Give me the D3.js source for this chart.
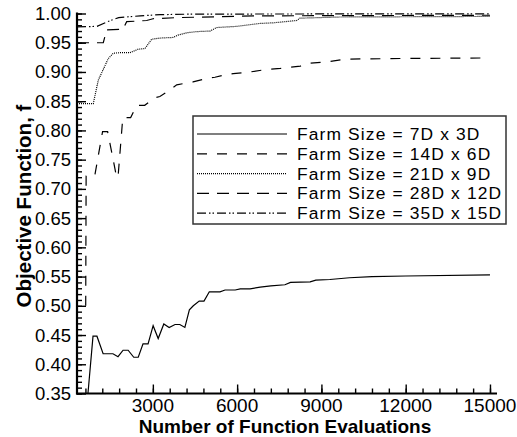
<!DOCTYPE html>
<html>
<head>
<meta charset="utf-8">
<script src="https://cdn.jsdelivr.net/npm/d3@7"></script>
<style>
  html, body { margin: 0; padding: 0; background: #fff; }
  svg { display: block; }
  text { font-family: "Liberation Sans", Arial, Helvetica, sans-serif; fill: #000; }
</style>
</head>
<body>
<svg id="chart" width="517" height="437"></svg>
<script>
// Optimisation history: objective function vs. number of function evaluations
const seriesNames = [
  "Farm Size = 7D x 3D",
  "Farm Size = 14D x 6D",
  "Farm Size = 21D x 9D",
  "Farm Size = 28D x 12D",
  "Farm Size = 35D x 15D"
];

const evals7x3 = [690, 870, 1010, 1230, 1580, 1760, 1940, 2120, 2320, 2480, 2650, 2830, 3010, 3190, 3390, 3580, 3790, 3960, 4140, 4300, 4440, 4650, 4820, 5010, 5390, 5570, 5930, 6110, 6460, 6820, 7200, 7700, 7900, 8600, 8800, 9300, 10000, 10800, 12000, 15000];
const obj7x3   = [0.350, 0.448, 0.448, 0.418, 0.418, 0.413, 0.424, 0.424, 0.412, 0.412, 0.435, 0.435, 0.466, 0.444, 0.469, 0.463, 0.468, 0.468, 0.463, 0.493, 0.500, 0.508, 0.508, 0.524, 0.524, 0.527, 0.527, 0.529, 0.529, 0.532, 0.534, 0.536, 0.540, 0.541, 0.544, 0.545, 0.548, 0.550, 0.551, 0.553];

const evals14x6 = [610, 625, 930, 1210, 1390, 1710, 1760, 1930, 2210, 2430, 2710, 3070, 3250, 3600, 3850, 4180, 4430, 4930, 5210, 5570, 5860, 6460, 7000, 7540, 8250, 8600, 9320, 9860, 11800, 15000];
const obj14x6   = [0.500, 0.722, 0.722, 0.798, 0.798, 0.720, 0.720, 0.822, 0.822, 0.843, 0.843, 0.856, 0.858, 0.869, 0.878, 0.881, 0.883, 0.889, 0.891, 0.895, 0.897, 0.900, 0.904, 0.906, 0.910, 0.915, 0.918, 0.922, 0.923, 0.924];

const evals21x9 = [300, 880, 1058, 1414, 1592, 1830, 2186, 2482, 2720, 2959, 3254, 3717, 3895, 4205, 4561, 5034, 5273, 5985, 6814, 7277, 8120, 8238, 9662, 15000];
const obj21x9   = [0.846, 0.846, 0.886, 0.923, 0.932, 0.933, 0.933, 0.939, 0.940, 0.956, 0.958, 0.959, 0.963, 0.967, 0.969, 0.970, 0.976, 0.978, 0.983, 0.984, 0.988, 0.992, 0.994, 0.995];

const evals28x12 = [300, 1236, 1357, 1937, 2069, 2780, 3005, 3859, 6814, 15000];
const obj28x12   = [0.950, 0.950, 0.972, 0.973, 0.986, 0.988, 0.991, 0.993, 0.996, 0.997];

const evals35x15 = [300, 1012, 1487, 1783, 2552, 3264, 4439, 15000];
const obj35x15   = [0.977, 0.978, 0.988, 0.993, 0.996, 0.998, 0.999, 0.9995];

const xTickValues = [3000, 6000, 9000, 12000, 15000];
const yTickValues = [0.35, 0.40, 0.45, 0.50, 0.55, 0.60, 0.65, 0.70, 0.75, 0.80, 0.85, 0.90, 0.95, 1.00];

const xTitle = "Number of Function Evaluations";
const yTitle = "Objective Function, f";

// line styles per series: solid, dashed, dotted, long dash, dash-dot-dot
const dashStyles = [null, "10,10", "1,1", "12,8", "9,3,1.5,2,1.5,3"];

const series = [
  [evals7x3, obj7x3],
  [evals14x6, obj14x6],
  [evals21x9, obj21x9],
  [evals28x12, obj28x12],
  [evals35x15, obj35x15]
].map(([xs, ys], i) => ({
  name: seriesNames[i],
  dash: dashStyles[i],
  points: xs.map((x, j) => ({ x, y: ys[j] }))
}));

const svg = d3.select("#chart");
const plot = { left: 77, right: 497, top: 13.5, bottom: 393.5 };

const x = d3.scaleLinear().domain([300, 15250]).range([plot.left, plot.right]);
const y = d3.scaleLinear().domain([0.35, 1.00]).range([plot.bottom, plot.top]);

svg.append("defs").append("clipPath").attr("id", "plotClip")
  .append("rect")
  .attr("x", plot.left).attr("y", plot.top - 2)
  .attr("width", plot.right - plot.left).attr("height", plot.bottom - plot.top + 2);

// curves
const line = d3.line().x(d => x(d.x)).y(d => y(d.y));
const curves = svg.append("g").attr("clip-path", "url(#plotClip)");
series.forEach(s => {
  curves.append("path")
    .datum(s.points)
    .attr("d", line)
    .attr("fill", "none")
    .attr("stroke", "#000")
    .attr("stroke-width", 1.2)
    .attr("stroke-dasharray", s.dash);
});

// x axis: inward ticks, major every 3000, minor every 600
const xMinor = d3.range(600, 15250, 600).filter(v => x(v) > plot.left + 1);
const xAxisG = svg.append("g").attr("transform", `translate(0,${plot.bottom})`);
xAxisG.call(d3.axisBottom(x).tickValues(xMinor).tickSize(-5).tickFormat(""))
  .call(g => g.select(".domain").remove());
xAxisG.append("g").call(d3.axisBottom(x).tickValues(xTickValues).tickSize(-9).tickFormat(""))
  .call(g => g.select(".domain").remove());
xAxisG.selectAll(".tick line").attr("stroke", "#000").attr("stroke-width", 1.4);
xAxisG.selectAll(".tick text").remove();
svg.append("line")
  .attr("x1", plot.left - 1).attr("x2", plot.right)
  .attr("y1", plot.bottom).attr("y2", plot.bottom)
  .attr("stroke", "#000").attr("stroke-width", 2.2);
svg.append("g").selectAll("text").data(xTickValues).join("text")
  .attr("x", d => x(d)).attr("y", 412)
  .attr("text-anchor", "middle")
  .attr("font-size", 19)
  .text(d => d3.format("d")(d));

// y axis: inward ticks, major every 0.05, minor every 0.01
const yMinor = d3.range(35, 101, 1).map(v => v / 100);
const yAxisG = svg.append("g").attr("transform", `translate(${plot.left},0)`);
yAxisG.call(d3.axisLeft(y).tickValues(yMinor).tickSize(-5).tickFormat(""))
  .call(g => g.select(".domain").remove());
yAxisG.append("g").call(d3.axisLeft(y).tickValues(yTickValues).tickSize(-9).tickFormat(""))
  .call(g => g.select(".domain").remove());
yAxisG.selectAll(".tick line").attr("stroke", "#000").attr("stroke-width", 1.4);
yAxisG.selectAll(".tick text").remove();
svg.append("line")
  .attr("x1", plot.left).attr("x2", plot.left)
  .attr("y1", plot.top - 1).attr("y2", plot.bottom + 1)
  .attr("stroke", "#000").attr("stroke-width", 2.2);
svg.append("g").selectAll("text").data(yTickValues).join("text")
  .attr("x", 71).attr("y", d => y(d))
  .attr("dy", "0.35em")
  .attr("text-anchor", "end")
  .attr("font-size", 18.5)
  .text(d => d3.format(".2f")(d));

// axis titles
svg.append("text")
  .attr("x", 285).attr("y", 433)
  .attr("text-anchor", "middle")
  .attr("font-size", 19).attr("font-weight", "bold")
  .text(xTitle);
svg.append("text")
  .attr("transform", "translate(31,206) rotate(-90)")
  .attr("text-anchor", "middle")
  .attr("font-size", 20.5).attr("font-weight", "bold")
  .text(yTitle);

// legend
const legend = svg.append("g");
legend.append("rect")
  .attr("x", 193).attr("y", 116)
  .attr("width", 313).attr("height", 108)
  .attr("fill", "#fff")
  .attr("stroke", "#333").attr("stroke-width", 1.5);
const rows = legend.selectAll("g.row").data(series).join("g")
  .attr("class", "row")
  .attr("transform", (d, i) => `translate(0,${134 + i * 19.8})`);
rows.append("line")
  .attr("x1", 197).attr("x2", 287)
  .attr("stroke", "#000").attr("stroke-width", 1.2)
  .attr("stroke-dasharray", d => d.dash);
// entries are set a little smaller so rows do not collide, then spaced out to full width
rows.append("text")
  .attr("x", 297).attr("dy", "0.35em")
  .attr("font-size", 17.4)
  .text(d => d.name)
  .each(function () {
    const natural = this.getComputedTextLength();
    d3.select(this)
      .attr("textLength", natural * 19.6 / 17.4)
      .attr("lengthAdjust", "spacing");
  });
</script>
</body>
</html>
